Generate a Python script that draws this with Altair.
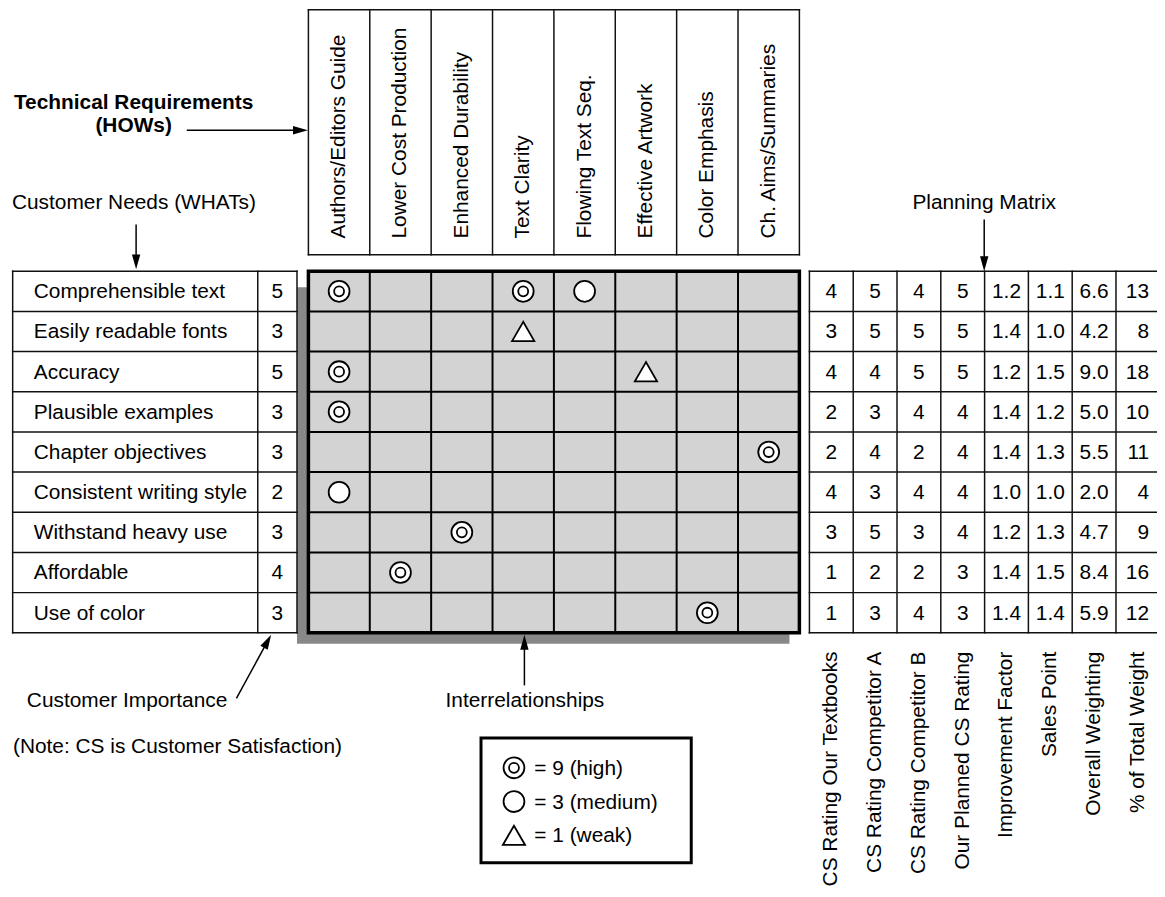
import math
import altair as alt
import pandas as pd

# ---------------- data ----------------
needs = ["Comprehensible text", "Easily readable fonts", "Accuracy", "Plausible examples",
         "Chapter objectives", "Consistent writing style", "Withstand heavy use",
         "Affordable", "Use of color"]
importance = [5, 3, 5, 3, 3, 2, 3, 4, 3]
hows = ["Authors/Editors Guide", "Lower Cost Production", "Enhanced Durability",
        "Text Clarity", "Flowing Text Seq.", "Effective Artwork", "Color Emphasis",
        "Ch. Aims/Summaries"]
rel_need = [0, 0, 0, 1, 2, 2, 3, 4, 5, 6, 7, 8]
rel_how = [0, 3, 4, 3, 0, 5, 0, 7, 0, 2, 1, 6]
rel_score = [9, 9, 3, 1, 9, 1, 9, 9, 3, 9, 9, 9]
planning_cols = ["CS Rating Our Textbooks", "CS Rating Competitor A", "CS Rating Competitor B",
                 "Our Planned CS Rating", "Improvement Factor", "Sales Point",
                 "Overall Weighting", "% of Total Weight"]
cs_ours = [4, 3, 4, 2, 2, 4, 3, 1, 1]
cs_comp_a = [5, 5, 4, 3, 4, 3, 5, 2, 3]
cs_comp_b = [4, 5, 5, 4, 2, 4, 3, 2, 4]
planned = [5, 5, 5, 4, 4, 4, 4, 3, 3]
improvement = [1.2, 1.4, 1.2, 1.4, 1.4, 1.0, 1.2, 1.4, 1.4]
sales_point = [1.1, 1.0, 1.5, 1.2, 1.3, 1.0, 1.3, 1.5, 1.4]
overall = [6.6, 4.2, 9.0, 5.0, 5.5, 2.0, 4.7, 8.4, 5.9]
pct_total = [13, 8, 18, 10, 11, 4, 9, 16, 12]
legend_scores = [9, 3, 1]
legend_labels = ["= 9 (high)", "= 3 (medium)", "= 1 (weak)"]

# ---------------- layout ----------------
FONT = "Liberation Sans"
FS = 21
ROW_TOP, ROW_H = 270.0, 40.45
ROW_BOT = ROW_TOP + len(needs) * ROW_H
MX0, MCOL = 310.5, 61.8
MX1 = MX0 + len(hows) * MCOL
HDR_TOP, HDR_BOT = 6.7, 253.3
LX0, LDIV, LX1 = 12.7, 259.5, 299.0
RX0, RCOL = 815.0, 44.1
RX_END = 1180.0
LINE = "#111111"


def row_c(i):
    return ROW_TOP + (i + 0.5) * ROW_H


def mcol_c(j):
    return MX0 + (j + 0.5) * MCOL


def rcol_c(k):
    return RX0 + (k + 0.5) * RCOL


XS = alt.Scale(domain=[0, 1165], range=[-8, 1157], nice=False, zero=False)
YS = alt.Scale(domain=[0, 897], range=[-8, 889], nice=False, zero=False)


def X(f):
    return alt.X(f, type="quantitative", scale=XS, axis=None)


def Y(f):
    return alt.Y(f, type="quantitative", scale=YS, axis=None)


def rect_layer(rows, **mark):
    df = pd.DataFrame(rows, columns=["x0", "x1", "y0", "y1"])
    return alt.Chart(df).mark_rect(**mark).encode(
        x=X("x0"), x2=alt.X2("x1"), y=Y("y0"), y2=alt.Y2("y1"))


def rule_layer(rows, color=LINE, width=1.5, cap="square"):
    df = pd.DataFrame(rows, columns=["x0", "x1", "y0", "y1"])
    return alt.Chart(df).mark_rule(color=color, strokeWidth=width, strokeCap=cap).encode(
        x=X("x0"), x2=alt.X2("x1"), y=Y("y0"), y2=alt.Y2("y1"))


def text_layer(rows, align="left", angle=0, weight="normal", size=FS):
    df = pd.DataFrame(rows, columns=["x", "y", "t"])
    return alt.Chart(df).mark_text(
        font=FONT, fontSize=size, align=align, baseline="middle", angle=angle,
        fontWeight=weight, color="black").encode(x=X("x"), y=Y("y"), text="t:N")


layers = []

# shadow of the relationship matrix
layers.append(rect_layer([(LX1, MX1 - 10, ROW_TOP + 16, ROW_BOT + 11)], color="#888888"))
# matrix fill
layers.append(rect_layer([(MX0, MX1, ROW_TOP, ROW_BOT)], color="#d3d3d3"))
# matrix grid
grid = [(MX0 + k * MCOL, MX0 + k * MCOL, ROW_TOP, ROW_BOT) for k in range(1, len(hows))]
grid += [(MX0, MX1, ROW_TOP + r * ROW_H, ROW_TOP + r * ROW_H) for r in range(1, len(needs))]
layers.append(rule_layer(grid, color="black", width=2, cap="butt"))
layers.append(rect_layer([(MX0, MX1, ROW_TOP, ROW_BOT)], fillOpacity=0, stroke="black",
                         strokeWidth=3.5))

# header box (HOWs)
hdr = [(MX0, MX1, HDR_TOP, HDR_TOP), (MX0, MX1, HDR_BOT, HDR_BOT)]
hdr += [(MX0 + k * MCOL, MX0 + k * MCOL, HDR_TOP, HDR_BOT) for k in range(0, len(hows) + 1)]
layers.append(rule_layer(hdr))

# left table (WHATs + importance)
lt = [(LX0, LX1, ROW_TOP + r * ROW_H, ROW_TOP + r * ROW_H) for r in range(0, len(needs) + 1)]
lt += [(x, x, ROW_TOP, ROW_BOT) for x in (LX0, LDIV, LX1)]
layers.append(rule_layer(lt))

# right table (planning matrix)
rt = [(RX0, RX_END, ROW_TOP + r * ROW_H, ROW_TOP + r * ROW_H) for r in range(0, len(needs) + 1)]
rt += [(RX0 + k * RCOL, RX0 + k * RCOL, ROW_TOP, ROW_BOT) for k in range(0, len(planning_cols) + 1)]
layers.append(rule_layer(rt))

# texts: needs & importance
layers.append(text_layer([(34, row_c(i) + 1, t) for i, t in enumerate(needs)], align="left"))
layers.append(text_layer([(LDIV + (LX1 - LDIV) / 2, row_c(i) + 1, str(v))
                          for i, v in enumerate(importance)], align="center"))
# HOW headers (rotated)
layers.append(text_layer([(mcol_c(j), 237, t) for j, t in enumerate(hows)],
                         align="left", angle=270))
# planning values
cols_int = [cs_ours, cs_comp_a, cs_comp_b, planned]
cols_dec = [improvement, sales_point, overall]
vals = []
for k, col in enumerate(cols_int):
    vals += [(rcol_c(k), row_c(i) + 1, str(v)) for i, v in enumerate(col)]
for k, col in enumerate(cols_dec):
    vals += [(rcol_c(k + 4), row_c(i) + 1, f"{v:.1f}") for i, v in enumerate(col)]
layers.append(text_layer(vals, align="center"))
layers.append(text_layer([(1157, row_c(i) + 1, str(v)) for i, v in enumerate(pct_total)],
                         align="right"))
# planning column labels (rotated, under the table)
layers.append(text_layer([(rcol_c(k), 653, t) for k, t in enumerate(planning_cols)],
                         align="right", angle=270))

# annotation texts
layers.append(text_layer([(134.5, 101, "Technical Requirements"), (134.5, 124, "(HOWs)")],
                         align="center", weight="bold"))
layers.append(text_layer([(12, 201, "Customer Needs (WHATs)"),
                          (27, 703, "Customer Importance"),
                          (13, 749, "(Note: CS is Customer Satisfaction)")], align="left"))
layers.append(text_layer([(991, 201, "Planning Matrix"), (528.5, 703, "Interrelationships")],
                         align="center"))

# legend box + labels
LGX0, LGX1, LGY0, LGY1 = 484.3, 696.0, 740.0, 865.7
LG_SYM_X, LG_TXT_X = 517.5, 538.0
LG_YS = [770.0, 804.0, 838.0]
layers.append(rect_layer([(LGX0, LGX1, LGY0, LGY1)], fillOpacity=0, stroke="black",
                         strokeWidth=3))
layers.append(text_layer([(LG_TXT_X, y + 1, t) for y, t in zip(LG_YS, legend_labels)],
                         align="left"))

# relationship symbols (matrix + legend)
sym = pd.DataFrame(
    [{"x": mcol_c(c), "y": row_c(r), "score": s} for r, c, s in zip(rel_need, rel_how, rel_score)]
    + [{"x": LG_SYM_X, "y": y, "score": s} for y, s in zip(LG_YS, legend_scores)])
base = alt.Chart(sym).encode(x=X("x"), y=Y("y"))
layers.append(base.transform_filter(alt.datum.score >= 3).mark_point(
    shape="circle", filled=True, fill="white", stroke="black", strokeWidth=1.8,
    size=441, opacity=1))
layers.append(base.transform_filter(alt.datum.score == 9).mark_point(
    shape="circle", filled=True, fill="white", stroke="black", strokeWidth=1.8,
    size=100, opacity=1))
layers.append(base.transform_filter(alt.datum.score == 1).mark_point(
    shape="triangle-up", filled=True, fill="white", stroke="black", strokeWidth=1.8,
    size=500, opacity=1))

# arrows
arrows = [  # (tail x, tail y, tip x, tip y)
    (188, 128, 310, 128),
    (137, 223, 137, 268),
    (991, 218, 991, 270),
    (238, 700, 273, 636),
    (528, 687, 528, 636),
]
shafts = []
heads = []
for x0, y0, x1, y1 in arrows:
    dx, dy = x1 - x0, y1 - y0
    L = math.hypot(dx, dy)
    shafts.append((x0, x1 - dx / L * 6, y0, y1 - dy / L * 6))
    ang = math.degrees(math.atan2(-dx, dy)) % 360
    heads.append({"x": x1, "y": y1, "a": ang})
layers.append(rule_layer(shafts, color="black", width=1.5, cap="butt"))
layers.append(alt.Chart(pd.DataFrame(heads)).mark_point(
    shape="M0,0 L-0.28,-1 L0.28,-1 Z", filled=True, color="black", strokeWidth=0,
    size=900, opacity=1).encode(x=X("x"), y=Y("y"), angle=alt.Angle("a:Q", scale=None)))

chart = alt.layer(*layers).properties(
    width=1157, height=889, padding=0, background="white",
    autosize=alt.AutoSizeParams(type="none"),
).configure_view(strokeWidth=0)

chart.save("out.html", embed_options={"renderer": "svg", "actions": False})
